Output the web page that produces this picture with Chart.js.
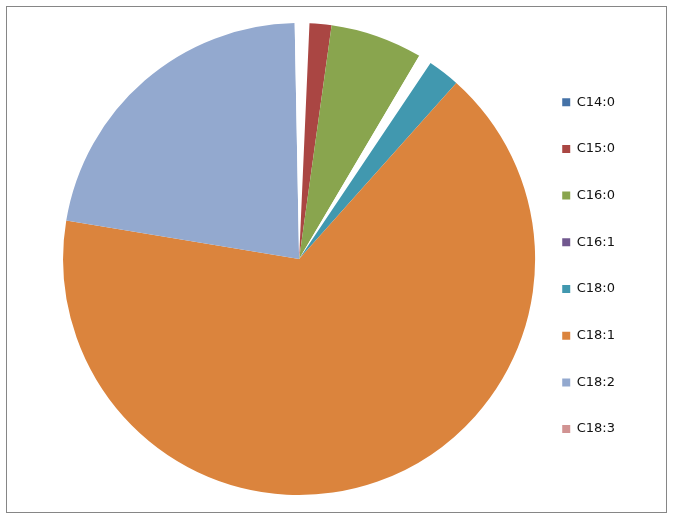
<!DOCTYPE html>
<html>
<head>
<meta charset="utf-8">
<script src="https://cdn.jsdelivr.net/npm/chart.js@4.4.1/dist/chart.umd.min.js"></script>
<style>
    body { margin: 0; background: #fff; }
    #box {
        position: absolute; left: 6px; top: 6px;
        width: 661px; height: 507px;
        border: 1px solid #868686; box-sizing: border-box;
    }
</style>
</head>
<body>
<div id="box"><canvas id="fattyChart" width="659" height="505"></canvas></div>
<script>
// fatty acid shares (%)
var acids = ['C14:0', 'C15:0', 'C16:0', 'C16:1', 'C18:0', 'C18:1', 'C18:2', 'C18:3'];
var shares = [0.7, 1.5, 6.3, 0.9, 2.2, 66.0, 22.1, 0.3];

var legendColors = ['#4572A7', '#AA4643', '#89A54E', '#71588F', '#4198AF', '#DB843D', '#93A9CF', '#D19392'];
// the tiny slices show up as white gaps in the original
var sliceColors = ['#ffffff', '#AA4643', '#89A54E', '#ffffff', '#4198AF', '#DB843D', '#93A9CF', '#ffffff'];
var textColor = '#111';

var ctx = document.getElementById('fattyChart').getContext('2d');
var chart = new Chart(ctx, {
    type: 'pie',
    data: {
        labels: acids,
        datasets: [{
            data: shares,
            backgroundColor: sliceColors,
            borderWidth: 0,
            hoverOffset: 0
        }]
    },
    options: {
        responsive: false,
        animation: false,
        events: [],
        layout: { padding: { left: 56, right: 41, top: 16, bottom: 17 } },
        plugins: {
            tooltip: { enabled: false },
            legend: {
                position: 'right',
                // empty title, only used to push the rows down a bit
                title: { display: true, text: '', padding: 0, font: { size: 10, lineHeight: '20px' } },
                labels: {
                    boxWidth: 8,
                    boxHeight: 8,
                    padding: 27,
                    color: textColor,
                    font: { family: 'DejaVu Sans', size: 13, lineHeight: '19.7px' },
                    generateLabels: function (c) {
                        // text as a list so the row height follows the lineHeight
                        return acids.map(function (name, i) {
                            return {
                                text: [name],
                                fillStyle: legendColors[i],
                                strokeStyle: legendColors[i],
                                fontColor: textColor,
                                lineWidth: 0,
                                index: i
                            };
                        });
                    }
                }
            }
        }
    }
});
</script>
</body>
</html>
